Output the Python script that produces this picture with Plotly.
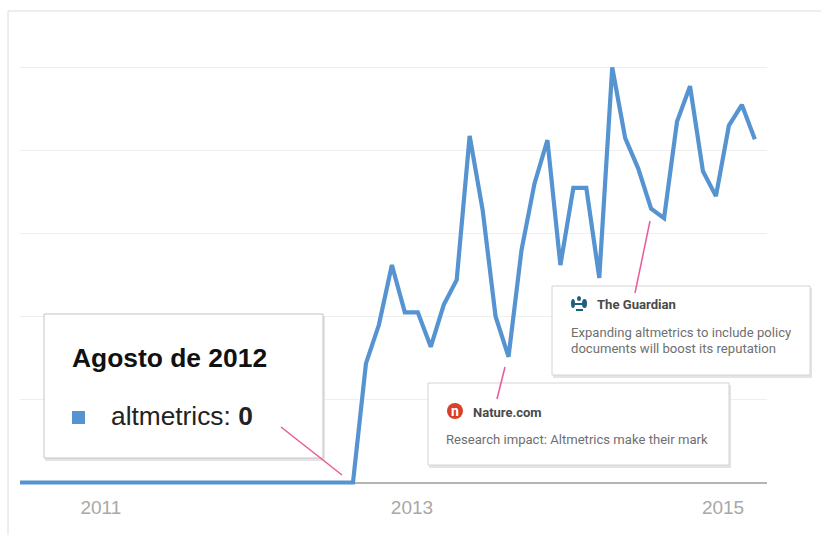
import plotly.graph_objects as go

W, H = 821, 535

# Months counted from January 2011 (Aug 2012 = 19), ending March 2015
months = list(range(-7, 51))
zero_stretch = [0] * 27
rising = [28.7, 38, 52.4, 41, 41, 32.7, 42.8, 48.8, 83.5, 65.7, 40, 30.3, 56, 72, 82.5,
          52.4, 71, 71, 49.3, 100, 83, 75.7, 66, 63.7, 87, 95.5, 75, 69, 86, 91, 82.7]
altmetrics = zero_stretch + rising
tick_positions = [-0.45, 23.55, 47.55]
tick_labels = ["2011", "2013", "2015"]
grid_values = [0, 20, 40, 60, 80, 100]

BLUE = "#5693d1"
PINK = "#ea5a97"


def px(x):
    return x / W


def py(y):
    return 1 - y / H


def rect(x0, y0, x1, y1, fill, line=None, width=1):
    return dict(type="rect", xref="paper", yref="paper", layer="above",
                x0=px(x0), x1=px(x1), y0=py(y0), y1=py(y1),
                fillcolor=fill, line=dict(color=line or fill, width=width if line else 0))


def seg(x0, y0, x1, y1, color, width=1.5):
    return dict(type="line", xref="paper", yref="paper", layer="above",
                x0=px(x0), x1=px(x1), y0=py(y0), y1=py(y1),
                line=dict(color=color, width=width))


def circle(x0, y0, x1, y1, fill):
    return dict(type="circle", xref="paper", yref="paper", layer="above",
                x0=px(x0), x1=px(x1), y0=py(y0), y1=py(y1),
                fillcolor=fill, line=dict(width=0))


def label(x, y, html, size, color, family, anchor="left"):
    return dict(xref="paper", yref="paper", x=px(x), y=py(y), text=html, showarrow=False,
                xanchor=anchor, yanchor="middle", align="left", xshift=-2 if anchor == "left" else 0,
                font=dict(size=size, color=color, family=family))


def card(x0, y0, x1, y1, border):
    return [
        rect(x0 + 1, y0 + 2, x1 + 2, y1 + 3, "#e4e4e4"),
        rect(x0, y0, x1, y1, "#ffffff", border, 1),
    ]


shapes = []
# page frame
shapes += [seg(8, 11, 821, 11, "#dcdcdc", 1), seg(8, 11, 8, 535, "#dcdcdc", 1)]
# cards
shapes += card(44, 314, 323, 458, "#c4c4c4")
shapes += card(552, 286, 810, 375, "#d4d4d4")
shapes += card(428, 383, 729, 465, "#d4d4d4")
# legend square
shapes.append(rect(72, 411, 85, 424, BLUE))
# pink leader lines
shapes += [seg(281, 427, 342, 475, PINK), seg(505, 367, 497, 399, PINK), seg(650, 221, 635, 293, PINK)]
# Nature icon
shapes.append(circle(447, 403, 463, 419, "#d8402a"))
# Guardian icon
shapes += [
    circle(571, 299, 575, 308, "#1f5f7e"),
    circle(582, 299, 587, 308, "#1f5f7e"),
    rect(575, 303, 583, 305, "#1f5f7e"),
    circle(577, 296, 581, 301, "#1f5f7e"),
    rect(576, 309, 583, 311, "#1f5f7e"),
]

annotations = [
    label(72, 358, "<b>Agosto de 2012</b>", 26.4, "#111111", "Liberation Sans"),
    label(111, 416, "altmetrics: <b>0</b>", 26.3, "#222222", "Liberation Sans"),
    label(597, 304.5, "<b>The Guardian</b>", 13.1, "#4a4a4a", "Roboto"),
    label(571, 332, "Expanding altmetrics to include policy", 13.1, "#6f6f6f", "Roboto"),
    label(571, 348, "documents will boost its reputation", 13.1, "#6f6f6f", "Roboto"),
    label(473, 412, "<b>Nature.com</b>", 13, "#4a4a4a", "Roboto"),
    label(446, 439, "Research impact: Altmetrics make their mark", 13.1, "#6f6f6f", "Roboto"),
    label(455, 410.5, "<b>n</b>", 14, "#ffffff", "Roboto", "center"),
]

fig = go.Figure(go.Scatter(x=months, y=altmetrics, mode="lines", name="altmetrics",
                           line=dict(color=BLUE, width=4.2), hoverinfo="skip"))

units_per_px = 100 / 415
fig.update_layout(
    width=W, height=H, margin=dict(l=0, r=0, t=0, b=0),
    paper_bgcolor="white", plot_bgcolor="white", showlegend=False,
    shapes=shapes, annotations=annotations,
    xaxis=dict(domain=[px(20), px(767)], range=[-6.69, 50.94], tickmode="array",
               tickvals=tick_positions, ticktext=tick_labels, showgrid=False, zeroline=False,
               showline=False, ticks="outside", ticklen=4, tickcolor="rgba(0,0,0,0)",
               tickfont=dict(size=19, color="#a8a8a8", family="Liberation Sans")),
    yaxis=dict(domain=[py(486), py(64)], range=[-3.5 * units_per_px, 100 + 3.5 * units_per_px],
               tickmode="array", tickvals=grid_values, showticklabels=False,
               gridcolor="#efefef", gridwidth=1, zeroline=True, zerolinecolor="#b4b4b4",
               zerolinewidth=1.5, showline=False),
)

fig.write_html("out.html", config={"displayModeBar": False},
               post_script="document.body.style.margin='0';document.body.style.overflow='hidden';")
